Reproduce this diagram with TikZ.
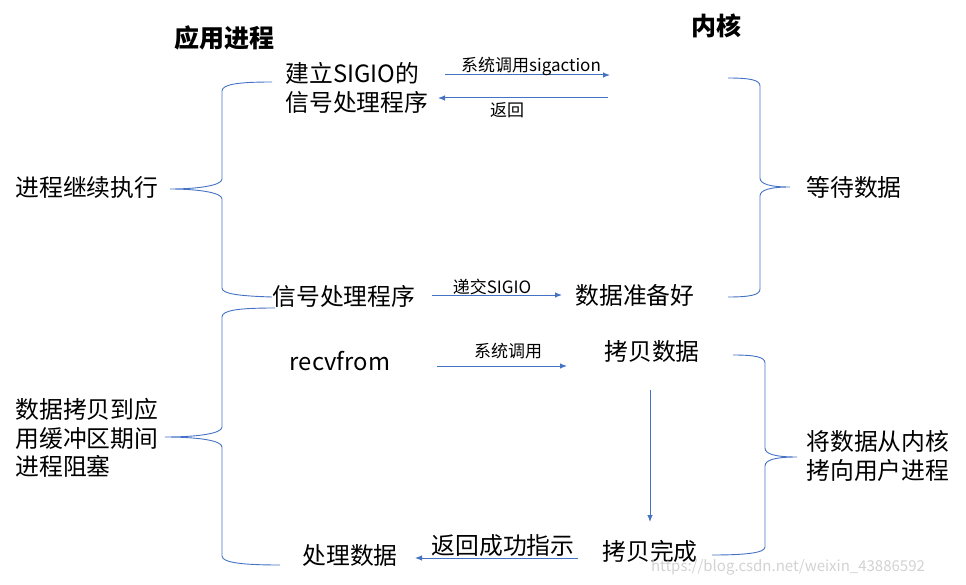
\documentclass[tikz,border=0pt]{standalone}
\usepackage{fontspec}
\setmainfont{Noto Sans CJK SC}
\usetikzlibrary{arrows.meta}
\definecolor{lineblue}{RGB}{68,114,196}

\begin{document}
\begin{tikzpicture}[x=1pt,y=-1pt,line width=1pt,
  txt/.style={inner sep=0pt,font=\fontsize{23.8}{28.5}\selectfont},
  lbl/.style={inner sep=0pt,font=\fontsize{17}{20}\selectfont},
  head/.style={inner sep=0pt,font=\fontsize{25}{30}\selectfont\bfseries},
  call/.style={draw=lineblue,-{Latex[length=7pt,width=5.5pt]}},
  brace/.style={draw=lineblue,line width=.9pt}]
\path[use as bounding box] (0,0) rectangle (966,585);
% column titles
\node[head] (app) at (224,38) {应用进程};
\node[head] (kernel) at (716,26) {内核};
% texts
\node[txt,anchor=west,align=left] (setup) at (285,88) {建立SIGIO的\\信号处理程序};
\node[txt,anchor=west] (goon) at (15,187) {进程继续执行};
\node[txt,anchor=west] (wait) at (806,187) {等待数据};
\node[txt,anchor=west] (handler) at (272,296) {信号处理程序};
\node[txt,anchor=west] (ready) at (575,295) {数据准备好};
\node[txt] (recv) at (340,361) {recvfrom};
\node[txt] (copy) at (652,351) {拷贝数据};
\node[txt,anchor=west,align=left] (block) at (15,438) {数据拷贝到应\\用缓冲区期间\\进程阻塞};
\node[txt,anchor=west,align=left] (move) at (806,456) {将数据从内核\\拷向用户进程};
\node[txt] (done) at (650,551) {拷贝完成};
\node[txt] (ret) at (503,546) {返回成功指示};
\node[txt] (proc) at (350,555) {处理数据};
\node[inner sep=0pt,font=\fontsize{15}{18}\selectfont,text=gray!35] (mark) at (788,567) {https://blog.csdn.net/weixin\_43886592};
% arrows
\coordinate (sigS) at (445,75); \coordinate (sigE) at (610,75);
\draw[call] (sigS) -- (sigE);
\node[lbl] (sigL) at (531,66) {系统调用sigaction};
\coordinate (backS) at (608,98); \coordinate (backE) at (438,98);
\draw[call] (backS) -- (backE);
\node[lbl] (backL) at (507,110) {返回};
\coordinate (giveS) at (432,295); \coordinate (giveE) at (562,295);
\draw[call] (giveS) -- (giveE);
\node[lbl] (giveL) at (492,287) {递交SIGIO};
\coordinate (callS) at (437,366); \coordinate (callE) at (567,366);
\draw[call] (callS) -- (callE);
\node[lbl] (callL) at (508,351) {系统调用};
\coordinate (copyS) at (650,390); \coordinate (copyE) at (650,522);
\draw[call] (copyS) -- (copyE);
\coordinate (okS) at (578,558); \coordinate (okE) at (415,558);
\draw[call] (okS) -- (okE);
% braces
\draw[brace] (272,82) .. controls (240,82) and (222,84) .. (222,91) -- (222,179) .. controls (222,186) and (195,189) .. (170,189) .. controls (195,189) and (222,192) .. (222,199) -- (222,288) .. controls (222,294) and (240,296) .. (272,297);
\draw[brace] (275,308) .. controls (240,308) and (222,310) .. (222,317) -- (222,427) .. controls (222,434) and (195,437) .. (165,437) .. controls (195,437) and (222,440) .. (222,447) -- (222,556) .. controls (222,563) and (245,565) .. (280,565);
\draw[brace] (728,78) .. controls (750,78) and (760,80) .. (760,86) -- (760,178) .. controls (760,184) and (770,187) .. (790,187) .. controls (770,187) and (760,190) .. (760,196) -- (760,289) .. controls (760,295) and (750,297) .. (728,297);
\draw[brace] (733,355) .. controls (755,355) and (765,357) .. (765,363) -- (765,448) .. controls (765,454) and (775,457) .. (797,457) .. controls (775,457) and (765,460) .. (765,466) -- (765,547) .. controls (765,553) and (745,555) .. (712,555);
\end{tikzpicture}
\end{document}
